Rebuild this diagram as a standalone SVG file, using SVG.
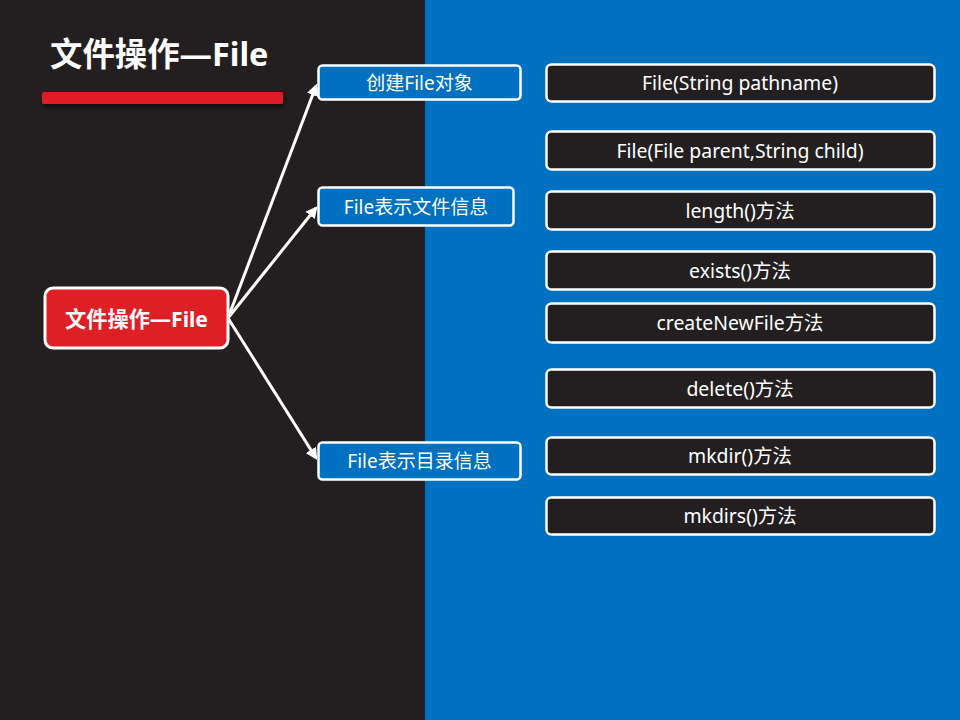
<svg xmlns="http://www.w3.org/2000/svg" width="960" height="720" viewBox="0 0 960 720">
<defs>
<style>
.t{font-family:"Noto Sans","Noto Sans CJK SC",sans-serif;fill:#fff;text-anchor:middle;dominant-baseline:central}
.sub rect{fill:#0070C0;stroke:#fff;stroke-width:2.5}
.leaf rect{fill:#231F20;stroke:#fff;stroke-width:2.5}
.sub text{font-size:19px}
.leaf text{font-size:19.4px}
.conn line{stroke:#fff;stroke-width:3;marker-end:url(#ah)}
</style>
<marker id="ah" viewBox="0 0 10 10" refX="8" refY="5" markerWidth="4" markerHeight="4" orient="auto" markerUnits="strokeWidth">
<path d="M0,0 L10,5 L0,10 z" fill="#fff"/>
</marker>
<filter id="sh" x="-10%" y="-50%" width="120%" height="250%">
<feDropShadow dx="1" dy="3" stdDeviation="2" flood-color="#000" flood-opacity="0.6"/>
</filter>
</defs>
<rect x="0" y="0" width="425" height="720" fill="#231F20"/>
<rect x="425" y="0" width="535" height="720" fill="#0070C0"/>
<g id="title">
<text class="t" x="50" y="53" style="text-anchor:start;font-size:32.4px;font-weight:bold">文件操作—File</text>
<rect x="42" y="92" width="241" height="12" rx="2" fill="#DF1F26" filter="url(#sh)"/>
</g>
<g class="conn" id="connectors">
<line x1="228" y1="318" x2="316" y2="86"/>
<line x1="228" y1="318" x2="316" y2="208"/>
<line x1="228" y1="318" x2="316" y2="458"/>
</g>
<g id="root">
<rect x="45" y="288" width="183" height="60" rx="8" fill="#DF1F26" stroke="#fff" stroke-width="3"/>
<text class="t" x="136.5" y="318" style="font-size:21.2px;font-weight:bold">文件操作—File</text>
</g>
<g id="create" class="sub">
<rect x="318.5" y="65.5" width="202" height="34" rx="4"/>
<text class="t" x="419.5" y="82.5">创建File对象</text>
</g>
<g id="fileinfo" class="sub">
<rect x="318.5" y="187.5" width="195" height="38" rx="4"/>
<text class="t" x="416" y="206.5">File表示文件信息</text>
</g>
<g id="dirinfo" class="sub">
<rect x="318.5" y="442.5" width="202" height="37" rx="4"/>
<text class="t" x="419.5" y="461">File表示目录信息</text>
</g>
<g id="m1" class="leaf">
<rect x="546.5" y="64.5" width="388" height="37" rx="5"/>
<text class="t" x="740" y="82.5">File(String pathname)</text>
</g>
<g id="m2" class="leaf">
<rect x="546.5" y="131.5" width="388" height="38" rx="5"/>
<text class="t" x="740" y="150">File(File parent,String child)</text>
</g>
<g id="m3" class="leaf">
<rect x="546.5" y="191.5" width="388" height="38" rx="5"/>
<text class="t" x="740" y="210">length()方法</text>
</g>
<g id="m4" class="leaf">
<rect x="546.5" y="251.5" width="388" height="38" rx="5"/>
<text class="t" x="740" y="270">exists()方法</text>
</g>
<g id="m5" class="leaf">
<rect x="546.5" y="303.5" width="388" height="39" rx="5"/>
<text class="t" x="740" y="322.5">createNewFile方法</text>
</g>
<g id="m6" class="leaf">
<rect x="546.5" y="369.5" width="388" height="38" rx="5"/>
<text class="t" x="740" y="388">delete()方法</text>
</g>
<g id="m7" class="leaf">
<rect x="546.5" y="437.5" width="388" height="37" rx="5"/>
<text class="t" x="740" y="455.5">mkdir()方法</text>
</g>
<g id="m8" class="leaf">
<rect x="546.5" y="497.5" width="388" height="37" rx="5"/>
<text class="t" x="740" y="515.5">mkdirs()方法</text>
</g>
</svg>
